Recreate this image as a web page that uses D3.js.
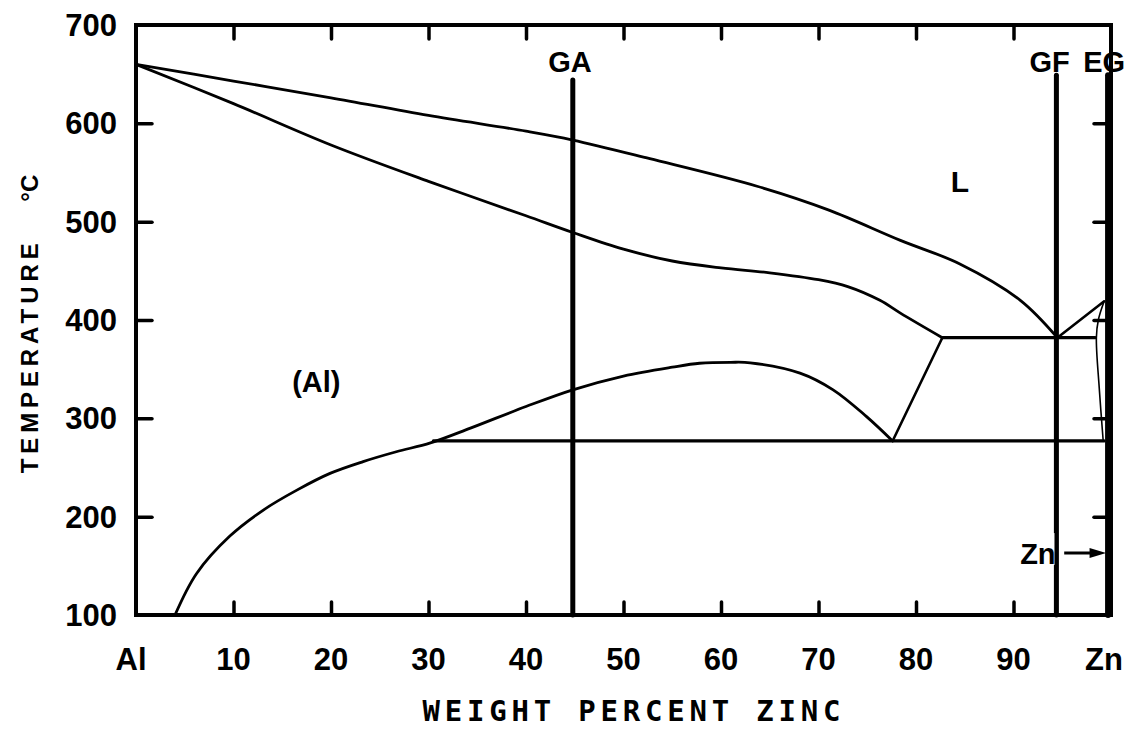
<!DOCTYPE html>
<html>
<head>
<meta charset="utf-8">
<script src="https://cdn.jsdelivr.net/npm/d3@7"></script>
<style>
  body { margin: 0; background: #fff; }
  svg { display: block; }
  .lbl { font-family: "Liberation Sans", Arial, sans-serif; font-weight: bold; fill: #000; }
</style>
</head>
<body>
<div class="PhaseChart"></div>
<script>
// Al-Zn phase diagram (wt% Zn, deg C)
const liquidus = [[0, 660], [10, 643], [20, 626], [30, 608], [40, 592], [44.8, 583], [52.7, 564], [63.7, 536], [71, 512], [78.4, 481], [84.5, 457], [90.7, 420], [94.5, 382]];
const solidus = [[0, 660], [10, 620], [20, 578], [30, 541], [40, 506], [44.8, 489], [50, 472], [55, 460], [60, 453], [65, 448], [70, 441], [73, 434], [76.3, 420], [78.4, 407], [82.7, 382]];
const solvus = [[4, 100], [6.2, 142], [9.6, 180], [13.1, 207], [16.5, 227], [19.9, 244], [23.3, 256], [26.7, 266], [30.2, 275], [34.3, 290], [40, 312], [44.8, 329], [50, 343], [55, 352], [57.8, 356], [61, 357], [63, 356.5], [68.1, 346], [71.5, 329], [74.9, 302], [77.6, 277]];
const solvusRight = [[82.7, 382], [77.6, 277]];
const eutecticLine = [[82.7, 382], [98.4, 382]];
const eutectoidLine = [[30.5, 277], [99.3, 277]];
const znLiquidus = [[94.5, 382], [99.3, 419]];
const znSolidus = [[99.3, 419], [98.7, 400], [98.5, 382], [98.8, 330], [99.2, 277]];

const alloyNames = ["GA", "GF", "EG"];
const alloyPct = [44.8, 94.4, 99.7];
const alloyTop = [644, 649, 649];

const xTicks = [0, 10, 20, 30, 40, 50, 60, 70, 80, 90, 100];
const xTickLabels = ["Al", "10", "20", "30", "40", "50", "60", "70", "80", "90", "Zn"];
const yTicks = [100, 200, 300, 400, 500, 600, 700];

const width = 1144, height = 729;
const margin = { top: 25, right: 33, bottom: 114, left: 136 };

const svg = d3.select(".PhaseChart")
  .append("svg")
  .attr("width", width)
  .attr("height", height);

const x = d3.scaleLinear().domain([0, 100]).range([margin.left, width - margin.right]);
const y = d3.scaleLinear().domain([100, 700]).range([height - margin.bottom, margin.top]);

function drawCurve(data, w, curve) {
  svg.append("path")
    .datum(data)
    .attr("fill", "none")
    .attr("stroke", "#000")
    .attr("stroke-width", w)
    .attr("stroke-linejoin", "round")
    .attr("stroke-linecap", "round")
    .attr("d", d3.line().x(d => x(d[0])).y(d => y(d[1])).curve(curve || d3.curveLinear));
}

// phase boundaries
drawCurve(liquidus, 2.8, d3.curveCatmullRom);
drawCurve(solidus, 2.8, d3.curveCatmullRom);
drawCurve(solvus, 2.8, d3.curveCatmullRom);
drawCurve(solvusRight, 2.6);
drawCurve(eutecticLine, 3.2);
drawCurve(eutectoidLine, 3.2);
drawCurve(znLiquidus, 2.6);
drawCurve(znSolidus, 1.6, d3.curveCatmullRom);

// frame
svg.append("rect")
  .attr("x", x(0)).attr("y", y(700))
  .attr("width", x(100) - x(0)).attr("height", y(100) - y(700))
  .attr("fill", "none").attr("stroke", "#000").attr("stroke-width", 4);

// inner ticks on all four sides
const bottomAxis = d3.axisBottom(x).tickValues(xTicks.slice(1, -1)).tickSize(-13).tickFormat("");
const topAxis = d3.axisTop(x).tickValues(xTicks.slice(1, -1)).tickSize(-14).tickFormat("");
const leftAxis = d3.axisLeft(y).tickValues(yTicks.slice(1, -1)).tickSize(-16).tickFormat("");
const rightAxis = d3.axisRight(y).tickValues(yTicks.slice(1, -1)).tickSize(-17).tickFormat("");

[[bottomAxis, `translate(0,${y(100)})`], [topAxis, `translate(0,${y(700)})`],
 [leftAxis, `translate(${x(0)},0)`], [rightAxis, `translate(${x(100)},0)`]].forEach(([ax, tr]) => {
  const g = svg.append("g").attr("transform", tr).call(ax);
  g.select(".domain").remove();
  g.selectAll(".tick line").attr("stroke", "#000").attr("stroke-width", 3.5).attr("stroke-linecap", "round");
});

// tick labels
svg.append("g").selectAll("text")
  .data(yTicks)
  .join("text")
  .attr("class", "lbl")
  .attr("x", x(0) - 19)
  .attr("y", d => y(d) + 11)
  .attr("text-anchor", "end")
  .style("font-size", "31px")
  .text(d => d);

svg.append("g").selectAll("text")
  .data(xTicks)
  .join("text")
  .attr("class", "lbl")
  .attr("x", (d, i) => x(d) + (i === 0 ? -5 : i === xTicks.length - 1 ? -7 : 0))
  .attr("y", y(100) + 55)
  .attr("text-anchor", "middle")
  .style("font-size", "31px")
  .text((d, i) => xTickLabels[i]);

// axis titles
svg.append("text")
  .attr("class", "lbl")
  .attr("transform", `translate(38,${y(361)}) rotate(-90)`)
  .attr("text-anchor", "middle")
  .attr("textLength", 230)
  .attr("lengthAdjust", "spacing")
  .style("font-size", "24px")
  .text("TEMPERATURE");

svg.append("text")
  .attr("class", "lbl")
  .attr("transform", `translate(38,${y(534)}) rotate(-90)`)
  .attr("text-anchor", "middle")
  .style("font-size", "24px")
  .text("°C");

svg.append("text")
  .attr("x", (x(0) + x(100)) / 2 + 8)
  .attr("y", 721)
  .attr("text-anchor", "middle")
  .attr("textLength", 418)
  .attr("lengthAdjust", "spacing")
  .style("font-family", "'DejaVu Sans Mono', monospace")
  .style("font-size", "29px")
  .style("font-weight", "bold")
  .text("WEIGHT PERCENT ZINC");

// alloy composition lines
alloyNames.forEach((name, i) => {
  svg.append("line")
    .attr("x1", x(alloyPct[i])).attr("x2", x(alloyPct[i]))
    .attr("y1", y(alloyTop[i])).attr("y2", y(100))
    .attr("stroke", "#000")
    .attr("stroke-width", i === 2 ? 6 : 5)
    .attr("stroke-linecap", "round");
});

const alloyLabelPct = [44.5, 93.7, 99.3];
alloyNames.forEach((name, i) => {
  svg.append("text")
    .attr("class", "lbl")
    .attr("x", x(alloyLabelPct[i]))
    .attr("y", y(700) + 47)
    .attr("text-anchor", "middle")
    .style("font-size", "29px")
    .text(name);
});

// phase region labels
svg.append("text").attr("class", "lbl")
  .attr("x", x(84.5)).attr("y", y(530))
  .attr("text-anchor", "middle").style("font-size", "30px").text("L");

svg.append("text").attr("class", "lbl")
  .attr("x", x(18.5)).attr("y", y(327))
  .attr("text-anchor", "middle").style("font-size", "29px").text("(Al)");

// Zn marker with arrow, white box interrupts the GF line
const znY = y(163);
svg.append("rect")
  .attr("x", x(90.1)).attr("y", znY - 20)
  .attr("width", 40).attr("height", 32)
  .attr("fill", "#fff");
svg.append("text").attr("class", "lbl")
  .attr("x", x(92.5)).attr("y", znY + 11)
  .attr("text-anchor", "middle").style("font-size", "29px").text("Zn");
svg.append("line")
  .attr("x1", x(95.2)).attr("x2", x(98.6))
  .attr("y1", znY).attr("y2", znY)
  .attr("stroke", "#000").attr("stroke-width", 3);
svg.append("path")
  .attr("d", `M${x(99.5)},${znY} L${x(97.8)},${znY - 5} L${x(97.8)},${znY + 5} Z`)
  .attr("fill", "#000");
</script>
</body>
</html>
